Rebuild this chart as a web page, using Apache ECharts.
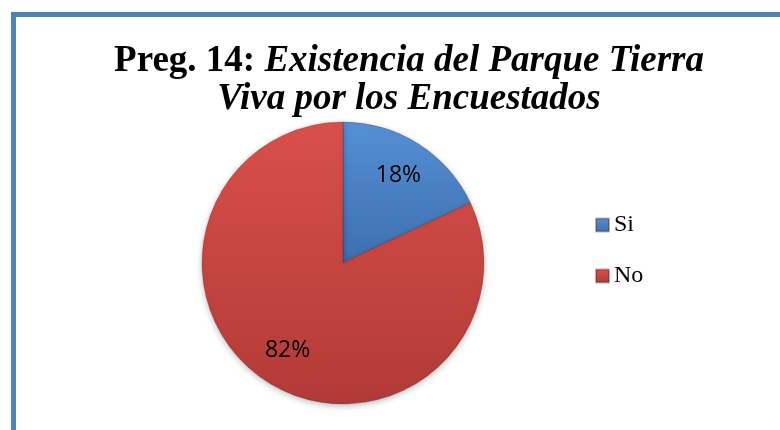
<!DOCTYPE html>
<html>
<head>
<meta charset="utf-8">
<script src="https://cdn.jsdelivr.net/npm/echarts@6/dist/echarts.min.js"></script>
<style>
  html, body { margin: 0; padding: 0; background: #fff; }
  #chart { width: 780px; height: 430px; }
</style>
</head>
<body>
<div id="chart"></div>
<script>
// answers and their share of respondents (%)
var categories = ['Si', 'No'];
var shares = [18, 82];
var sliceColors = [
  ['#5590d6', '#3d6fae'], // Si: light top -> dark bottom
  ['#d9504b', '#b23a36']  // No
];

var chart = echarts.init(document.getElementById('chart'));

function slice(i) {
  return {
    name: categories[i],
    value: shares[i],
    itemStyle: {
      color: new echarts.graphic.LinearGradient(0, 0, 0, 1, [
        { offset: 0, color: sliceColors[i][0] },
        { offset: 1, color: sliceColors[i][1] }
      ])
    }
  };
}

var pieData = categories.map(function (c, i) { return slice(i); });

var option = {
  backgroundColor: '#fff',
  animation: false,
  title: {
    left: 404,
    textAlign: 'center',
    top: 37,
    text: '{b|Preg. 14: }{i|Existencia del Parque Tierra}\n{i|Viva por los Encuestados}',
    textStyle: {
      lineHeight: 38,
      rich: {
        b: { fontFamily: 'Liberation Serif', fontWeight: 'bold', fontSize: 37, color: '#000', lineHeight: 38 },
        i: { fontFamily: 'Liberation Serif', fontWeight: 'bold', fontStyle: 'italic', fontSize: 37, color: '#000', lineHeight: 38 }
      }
    }
  },
  legend: {
    orient: 'vertical',
    left: 590,
    top: 208,
    itemWidth: 13,
    itemHeight: 13,
    itemGap: 27,
    icon: 'rect',
    data: categories,
    textStyle: { fontFamily: 'Liberation Serif', fontSize: 24, color: '#000' }
  },
  graphic: [{
    type: 'rect',
    shape: { x: 13.5, y: 14.5, width: 800, height: 450 },
    style: { fill: 'none', stroke: '#4f81bd', lineWidth: 5 },
    silent: true
  }],
  series: [
    {
      type: 'pie',
      center: [343, 263],
      radius: 141,
      startAngle: 90,
      clockwise: true,
      label: { show: false },
      labelLine: { show: false },
      itemStyle: {
        borderColor: 'rgba(80,30,30,0.35)',
        borderWidth: 0.8,
        shadowBlur: 6,
        shadowColor: 'rgba(0,0,0,0.25)',
        shadowOffsetY: 2
      },
      emphasis: { disabled: true },
      data: pieData
    },
    {
      // transparent ring just to place the percentage labels further out
      type: 'pie',
      center: [343, 263],
      radius: [60, 141],
      startAngle: 90,
      clockwise: true,
      silent: true,
      legendHoverLink: false,
      itemStyle: { color: 'rgba(0,0,0,0)' },
      label: {
        show: true,
        position: 'inside',
        formatter: '{c}%',
        fontFamily: 'Open Sans',
        fontSize: 23,
        color: '#000'
      },
      labelLine: { show: false },
      emphasis: { disabled: true },
      data: categories.map(function (c, i) { return { name: c + ' ', value: shares[i] }; })
    }
  ]
};

chart.setOption(option);
</script>
</body>
</html>
